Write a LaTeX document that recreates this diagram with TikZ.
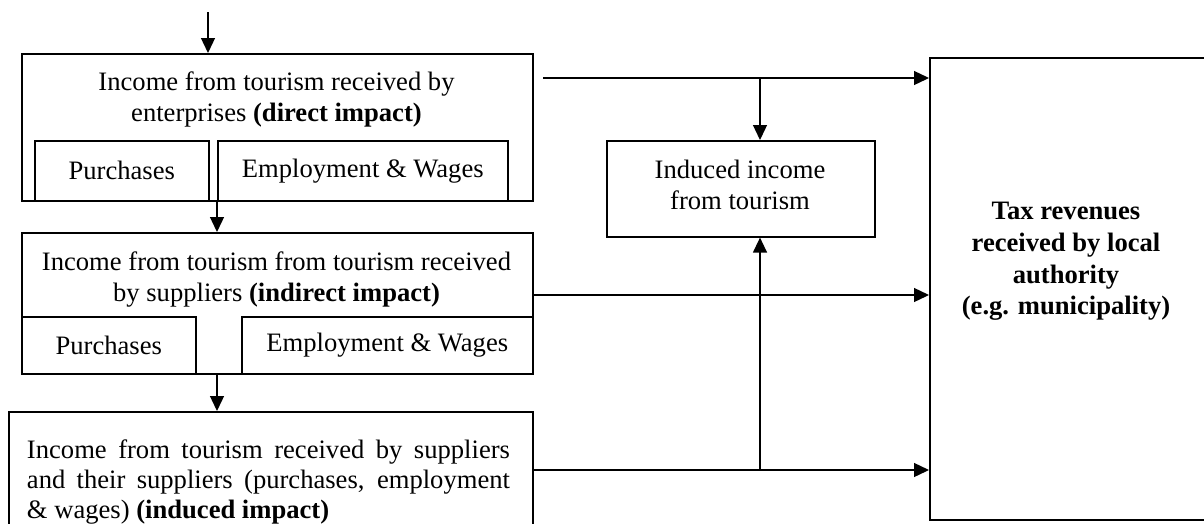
\documentclass[tikz,border=0pt]{standalone}
\usepackage{fontspec}
\setmainfont{Liberation Serif}
\usetikzlibrary{arrows.meta}
\begin{document}
\begin{tikzpicture}[x=1pt,y=-1pt,
 box/.style={draw, line width=1.6pt, inner sep=0pt, anchor=north west, font=\fontsize{26.6}{31}\selectfont},
 txt/.style={inner sep=0pt, font=\fontsize{26.6}{31}\selectfont, align=center},
 arr/.style={line width=1.3pt, -{Triangle[length=15pt,width=14pt]}}]
\clip (0,0) rectangle (1204,523);
% boxes
\node[box, minimum width=511pt, minimum height=147pt] (b1) at (21,53) {};
\node[box, minimum width=174pt, minimum height=60pt] (p1) at (34,140) {Purchases};
\node[box, minimum width=290pt, minimum height=60pt] (e1) at (217,140) {Employment \& Wages};
\node[box, minimum width=511pt, minimum height=141pt] (b2) at (21,232) {};
\node[box, minimum width=174pt, minimum height=57pt] (p2) at (21,316) {Purchases};
\node[box, minimum width=291pt, minimum height=57pt] (e2) at (241,316) {Employment \& Wages};
\node[box, minimum width=524pt, minimum height=130pt] (b3) at (8,411) {};
\node[box, minimum width=268pt, minimum height=96pt] (ind) at (606,140) {};
\node[box, minimum width=290pt, minimum height=462pt] (tax) at (929,57) {};
% texts
\node[txt] (t1) at (276.5,99.5) {Income from tourism received by\\enterprises \textbf{(direct impact)}};
\node[txt] (t2) at (276.5,279.5) {Income from tourism from tourism received\\by suppliers \textbf{(indirect impact)}};
\node[txt, text width=483pt, align=justify, font=\fontsize{26.6}{30}\selectfont] (t3) at (268.5,482) {\spaceskip=0.25em plus 0.5em\relax Income from tourism received by suppliers and their suppliers (purchases, employment \& wages) \textbf{(induced impact)}};
\node[txt] (ti) at (740,184.5) {Induced income\\from tourism};
\node[txt, font=\bfseries\fontsize{26.6}{31.7}\selectfont] (tt) at (1066,261.5) {Tax revenues\\received by local\\authority\\(e.g. municipality)};
% connectors
\coordinate (s0) at (208,12);
\draw[arr] (s0) -- (s0 |- b1.north);
\draw[arr] (e1.south west) -- (e1.south west |- b2.north);
\coordinate (s2) at (217,373);
\draw[arr] (s2) -- (s2 |- b3.north);
\coordinate (l1) at (543,78);
\draw[arr] (l1) -- (l1 -| tax.west);
\coordinate (j1) at (760,78);
\draw[arr] (j1) -- (j1 |- ind.north);
\coordinate (l2) at (532,295);
\draw[arr] (l2) -- (l2 -| tax.west);
\coordinate (l3) at (532,470);
\draw[arr] (l3) -- (l3 -| tax.west);
\coordinate (j3) at (760,470);
\draw[arr] (j3) -- (j3 |- ind.south);
\end{tikzpicture}
\end{document}
